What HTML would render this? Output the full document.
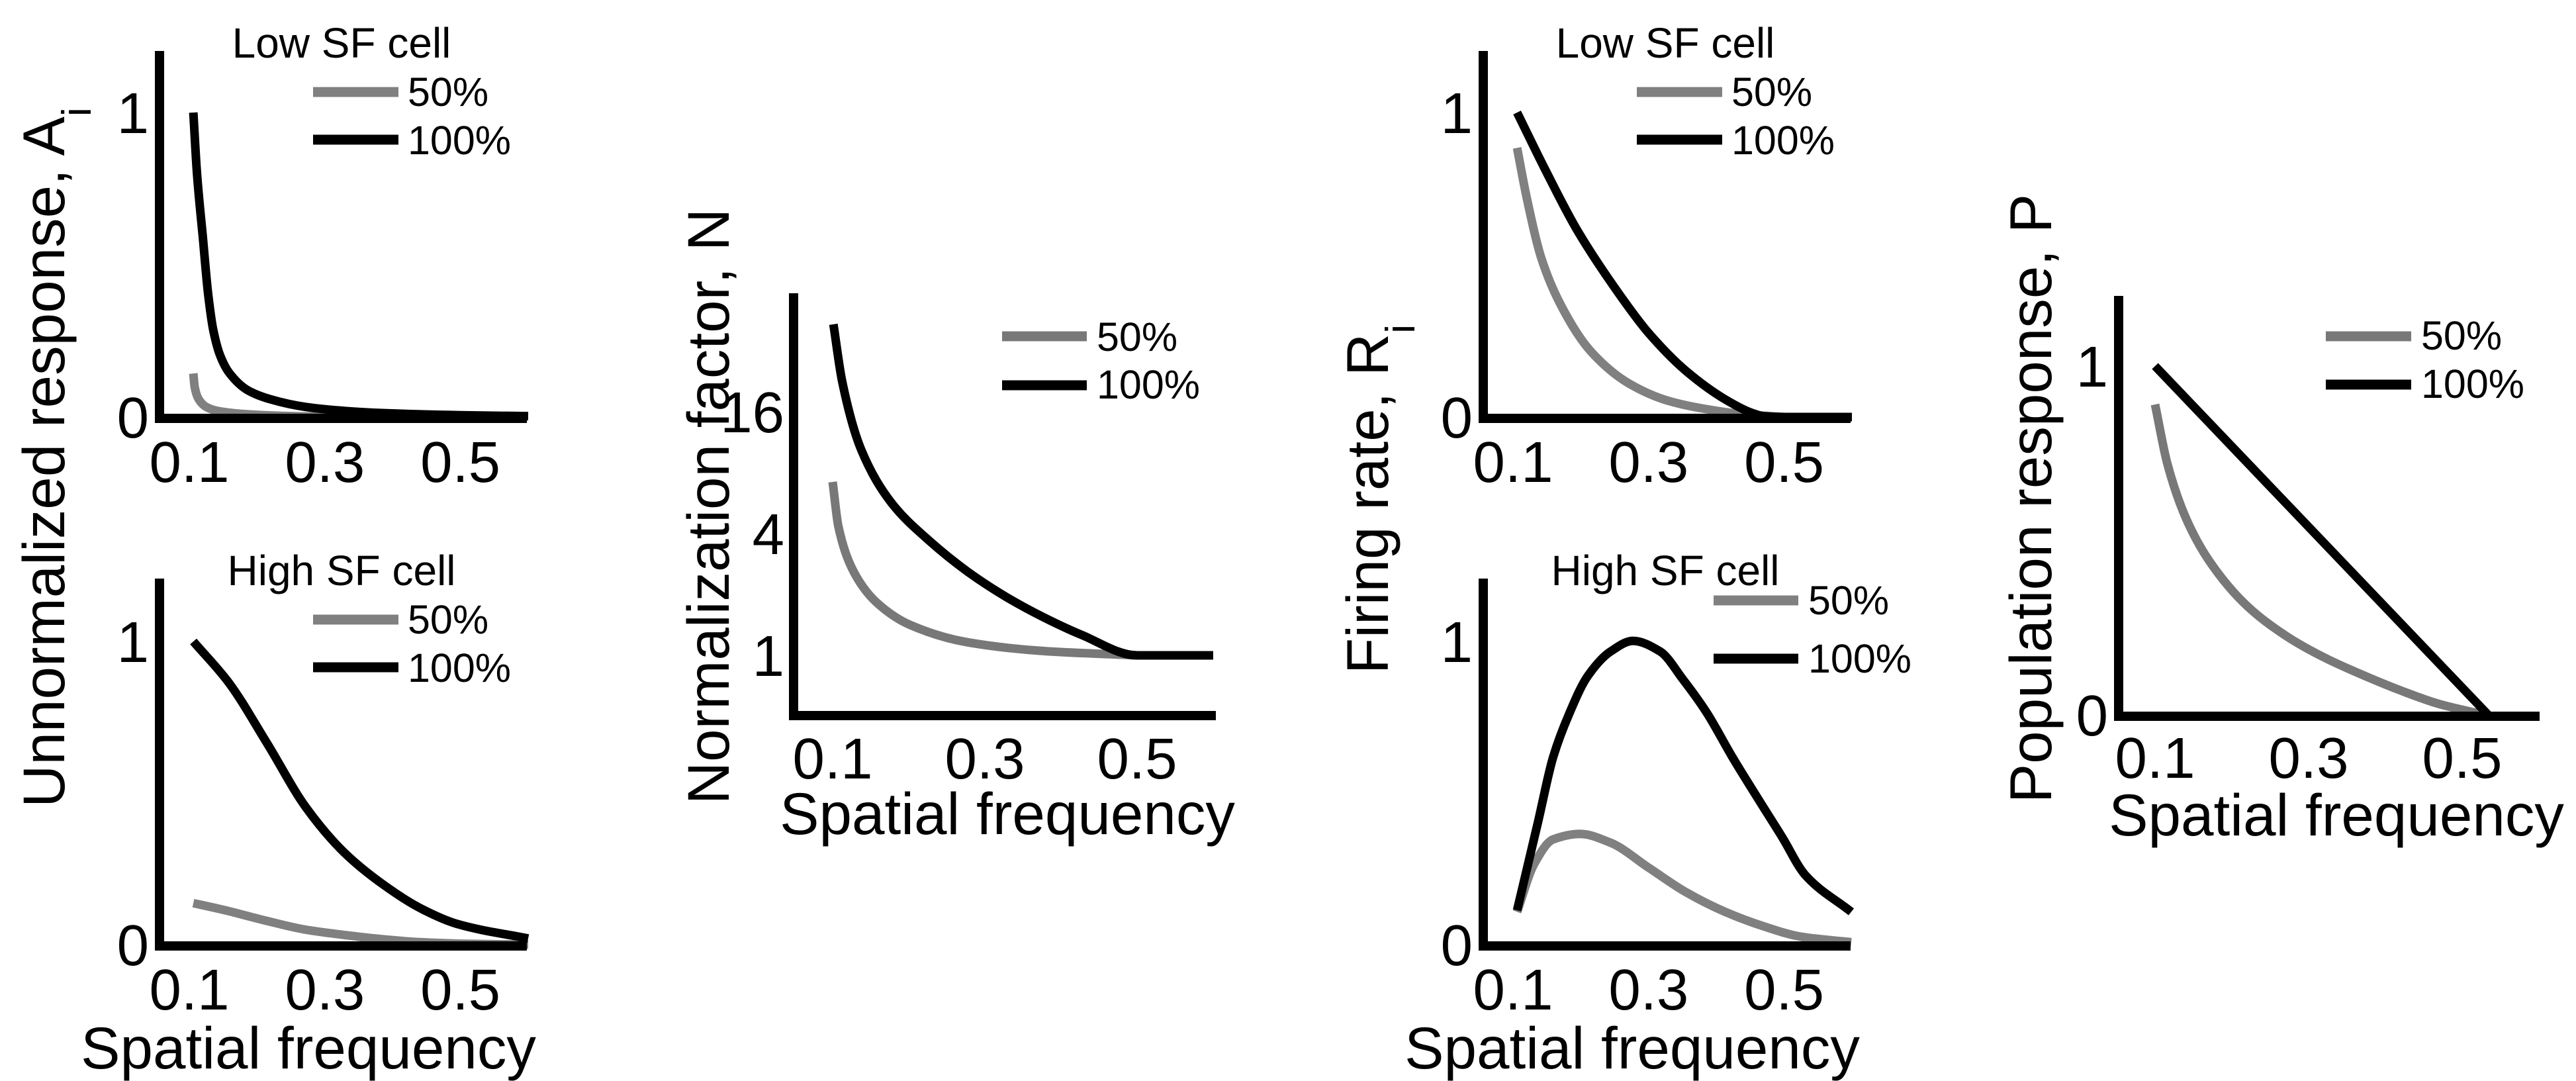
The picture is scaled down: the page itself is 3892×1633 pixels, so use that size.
<!DOCTYPE html>
<html><head><meta charset="utf-8"><style>
html,body{margin:0;padding:0;background:#fff;}
svg{display:block;font-family:"Liberation Sans",Arial,sans-serif;}
</style></head><body>
<svg id="fig" width="3892" height="1633" viewBox="0 0 3892 1633" xmlns="http://www.w3.org/2000/svg"></svg>
<script>
// ---- data ----
const p1x100 = [0.106,0.111,0.12,0.128,0.135,0.145,0.159,0.187,0.22,0.272,0.33,0.385,0.5,0.6];
const p1y100 = [1.0,0.81,0.59,0.40,0.29,0.205,0.145,0.087,0.058,0.033,0.02,0.013,0.006,0.003];
const p1x50 = [0.106,0.108,0.114,0.125,0.142,0.187,0.272,0.35];
const p1y50 = [0.143,0.098,0.058,0.033,0.02,0.009,0.002,0.0];

const p2x100 = [0.106,0.159,0.215,0.272,0.328,0.385,0.441,0.497,0.6];
const p2y100 = [1.0,0.862,0.663,0.453,0.305,0.2,0.12,0.067,0.02];
const p2x50 = [0.106,0.15,0.215,0.27,0.328,0.385,0.441,0.5,0.6];
const p2y50 = [0.137,0.115,0.078,0.05,0.032,0.018,0.008,0.003,0.0];

const p3x100 = [0.101,0.1125,0.1375,0.1775,0.2275,0.2775,0.3275,0.3775,0.4275,0.5,0.6];
const p3y100 = [43.3,22.6,10.4,5.66,3.67,2.59,1.95,1.54,1.26,1.0,1.0];
const p3x50 = [0.1,0.1075,0.1275,0.1575,0.2025,0.2775,0.3775,0.5];
const p3y50 = [7.2,4.35,2.6,1.83,1.41,1.16,1.05,1.0];

const p4x100 = [0.106,0.148,0.193,0.261,0.3,0.356,0.413,0.452,0.469,0.5,0.6];
const p4y100 = [1.0,0.81,0.62,0.39,0.276,0.15,0.058,0.014,0.003,0,0];
const p4x50 = [0.106,0.12,0.142,0.17,0.215,0.272,0.328,0.385,0.441,0.5];
const p4y50 = [0.884,0.722,0.52,0.37,0.215,0.109,0.054,0.026,0.009,0];

const p5x100 = [0.106,0.137,0.159,0.182,0.21,0.244,0.277,0.317,0.351,0.385,0.424,0.463,0.497,0.531,0.599];
const p5y100 = [0.113,0.406,0.617,0.757,0.885,0.967,1.002,0.967,0.874,0.768,0.617,0.476,0.355,0.23,0.108];
const p5x50 = [0.106,0.131,0.159,0.199,0.244,0.3,0.356,0.413,0.469,0.525,0.599];
const p5y50 = [0.108,0.265,0.347,0.365,0.336,0.254,0.172,0.108,0.061,0.026,0.008];

const p6x100 = [0.1,0.534];
const p6y100 = [1.0,0.0];
const p6x50 = [0.1,0.116,0.141,0.171,0.221,0.271,0.32,0.37,0.42,0.469,0.53];
const p6y50 = [0.89,0.72,0.56,0.44,0.31,0.226,0.165,0.115,0.07,0.032,0];

const xTicks = [0.1,0.3,0.5];
const xTickLabels = ["0.1","0.3","0.5"];
const yTicksLin = [0,1];
const yTickLabelsLin = ["0","1"];
const yTicksLog = [1,4,16];
const yTickLabelsLog = ["1","4","16"];
const legendLabels = ["50%","100%"];

const NS = "http://www.w3.org/2000/svg";
const svg = document.getElementById('fig');
function mk(tag, attrs, parent){
  const e = document.createElementNS(NS, tag);
  for (const k in attrs) e.setAttribute(k, attrs[k]);
  (parent||svg).appendChild(e);
  return e;
}
// monotone cubic (Fritsch-Carlson) path through pixel points
function smoothPath(pts){
  const n = pts.length;
  let d = 'M' + pts[0][0].toFixed(1) + ',' + pts[0][1].toFixed(1);
  if (n < 3) { for (let i=1;i<n;i++) d += ' L' + pts[i][0].toFixed(1) + ',' + pts[i][1].toFixed(1); return d; }
  const dx = [], s = [];
  for (let i=0;i<n-1;i++){ dx[i] = pts[i+1][0]-pts[i][0]; s[i] = (pts[i+1][1]-pts[i][1])/dx[i]; }
  const m = [s[0]];
  for (let i=1;i<n-1;i++){
    if (s[i-1]*s[i] <= 0) m[i] = 0;
    else { const w1 = 2*dx[i]+dx[i-1], w2 = dx[i]+2*dx[i-1]; m[i] = (w1+w2)/(w1/s[i-1]+w2/s[i]); }
  }
  m[n-1] = s[n-2];
  for (let i=0;i<n-1;i++){
    const h = dx[i]/3;
    const c1 = [pts[i][0]+h, pts[i][1]+m[i]*h];
    const c2 = [pts[i+1][0]-h, pts[i+1][1]-m[i+1]*h];
    d += ' C' + c1.map(v=>v.toFixed(1)).join(',') + ' ' + c2.map(v=>v.toFixed(1)).join(',') + ' ' + pts[i+1].map(v=>v.toFixed(1)).join(',');
  }
  return d;
}

const panels = [
  {id:'unnormalized-low', ax:241, top:77, bottom:632, right:796, x0:0.1, xp0:286, xs:1024, y0p:630, ys:460, log:false,
   title:'Low SF cell', titleX:516, titleY:87, tickY:728, yLabRight:225, gray:'#808080',
   leg:{x1:473,x2:602,y1:139,y2:211,tx:616,b1:160,b2:233},
   s50:[p1x50,p1y50], s100:[p1x100,p1y100]},
  {id:'unnormalized-high', ax:241, top:874, bottom:1429, right:796, x0:0.1, xp0:286, xs:1024, y0p:1427, ys:458, log:false,
   title:'High SF cell', titleX:516, titleY:884, tickY:1525, yLabRight:225, gray:'#808080',
   leg:{x1:473,x2:602,y1:936,y2:1008,tx:616,b1:957,b2:1030},
   s50:[p2x50,p2y50], s100:[p2x100,p2y100]},
  {id:'normalization', ax:1199, top:443, bottom:1081, right:1837, x0:0.1, xp0:1258, xs:1150, y0p:990, ys:184, log:true,
   tickY:1176, yLabRight:1185, gray:'#787878',
   leg:{x1:1514,x2:1642,y1:508,y2:582,tx:1657,b1:530,b2:602},
   s50:[p3x50,p3y50], s100:[p3x100,p3y100]},
  {id:'firing-low', ax:2241, top:77, bottom:632, right:2796, x0:0.1, xp0:2286, xs:1024, y0p:630, ys:460, log:false,
   title:'Low SF cell', titleX:2516, titleY:87, tickY:728, yLabRight:2225, gray:'#808080',
   leg:{x1:2473,x2:2602,y1:139,y2:211,tx:2616,b1:160,b2:233},
   s50:[p4x50,p4y50], s100:[p4x100,p4y100]},
  {id:'firing-high', ax:2241, top:874, bottom:1429, right:2796, x0:0.1, xp0:2286, xs:1024, y0p:1427, ys:458, log:false,
   title:'High SF cell', titleX:2516, titleY:884, tickY:1525, yLabRight:2225, gray:'#808080',
   leg:{x1:2589,x2:2717,y1:907,y2:995,tx:2732,b1:928,b2:1016},
   s50:[p5x50,p5y50], s100:[p5x100,p5y100]},
  {id:'population', ax:3201, top:447, bottom:1082, right:3837, x0:0.1, xp0:3256, xs:1160, y0p:1080, ys:527, log:false,
   tickY:1175, yLabRight:3185, gray:'#787878',
   leg:{x1:3514,x2:3643,y1:508,y2:581,tx:3658,b1:528,b2:601},
   s50:[p6x50,p6y50], s100:[p6x100,p6y100]}
];

panels.forEach(P => {
  const g = mk('g', {});
  
  
  const X = v => P.xp0 + (v - P.x0) * P.xs;
  const Y = v => P.log ? P.y0p - Math.log(v)/Math.log(4) * P.ys : P.y0p - v * P.ys;

  [[P.s50, P.gray, '50'], [P.s100, '#000', '100']].forEach(([s, col, nm]) => {
    const pts = s[0].map((x,i)=>[X(x), Y(s[1][i])]);
    const path = mk('path', {d: smoothPath(pts), fill:'none', stroke:col, 'stroke-width':13, 'stroke-linejoin':'round', 'stroke-linecap':'butt'}, g);
    
    
  });

  const ya = mk('line', {x1:P.ax, y1:P.top, x2:P.ax, y2:P.bottom+7, stroke:'#000','stroke-width':14}, g);
  
  
  const xa = mk('line', {x1:P.ax-7, y1:P.bottom, x2:P.right, y2:P.bottom, stroke:'#000','stroke-width':14}, g);
  
  

  xTicks.forEach((t,i) => {
    const tx = mk('text', {x:X(t), y:P.tickY, 'font-size':87, 'text-anchor':'middle'}, g);
    tx.textContent = xTickLabels[i];
    
    
  });
  const yt = P.log ? yTicksLog : yTicksLin, ytl = P.log ? yTickLabelsLog : yTickLabelsLin;
  yt.forEach((t,i) => {
    const ty = mk('text', {x:P.yLabRight, y:Y(t)+31, 'font-size':87, 'text-anchor':'end'}, g);
    ty.textContent = ytl[i];
    
    
  });

  if (P.title) {
    const tt = mk('text', {x:P.titleX, y:P.titleY, 'font-size':64, 'text-anchor':'middle'}, g);
    tt.textContent = P.title;
    
    
  }

  const L = P.leg;
  const lg = mk('g', {}, g);
  
  
  [[L.y1, P.gray, L.b1, 0], [L.y2, '#000', L.b2, 1]].forEach(([ly, col, b, i]) => {
    const ll = mk('line', {x1:L.x1, y1:ly, x2:L.x2, y2:ly, stroke:col, 'stroke-width':15}, lg);
    
    
    const lt = mk('text', {x:L.tx, y:b, 'font-size':61}, lg);
    lt.textContent = legendLabels[i];
    
    
  });
});
</script>
<script>
(function(){
  const NS = "http://www.w3.org/2000/svg";
  const svg = document.getElementById('fig');
  function txt(attrs, content, name){
    const t = document.createElementNS(NS,'text');
    for (const k in attrs) t.setAttribute(k, attrs[k]);
    t.innerHTML = content;
    
    
    svg.appendChild(t);
    return t;
  }
  txt({x:0,y:0,'font-size':89,'text-anchor':'middle',transform:'translate(97,691) rotate(-90)'},
      'Unnormalized response, A<tspan font-size="62" dy="40">i</tspan>', 'y-axis-title-unnormalized');
  txt({x:0,y:0,'font-size':89,'text-anchor':'middle',transform:'translate(1101,765) rotate(-90)'},
      'Normalization factor, N', 'y-axis-title-normalization');
  txt({x:0,y:0,'font-size':89,'text-anchor':'middle',transform:'translate(2097,754) rotate(-90)'},
      'Firing rate, R<tspan font-size="62" dy="40">i</tspan>', 'y-axis-title-firing-rate');
  txt({x:0,y:0,'font-size':89,'text-anchor':'middle',transform:'translate(3099,753) rotate(-90)'},
      'Population response, P', 'y-axis-title-population');
  txt({x:466,y:1614,'font-size':89,'text-anchor':'middle'}, 'Spatial frequency', 'x-axis-title-unnormalized');
  txt({x:1522,y:1260,'font-size':89,'text-anchor':'middle'}, 'Spatial frequency', 'x-axis-title-normalization');
  txt({x:2466,y:1614,'font-size':89,'text-anchor':'middle'}, 'Spatial frequency', 'x-axis-title-firing-rate');
  txt({x:3530,y:1262,'font-size':89,'text-anchor':'middle'}, 'Spatial frequency', 'x-axis-title-population');
})();
</script>
</body></html>
